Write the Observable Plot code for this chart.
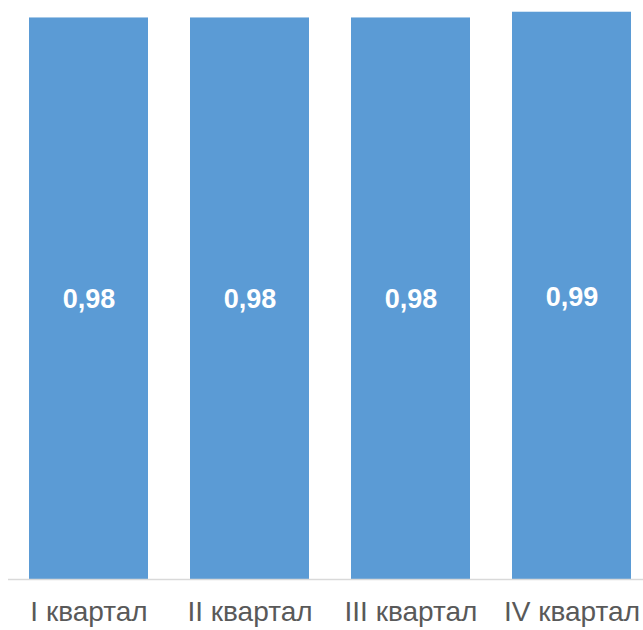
<!DOCTYPE html>
<html>
<head>
<meta charset="utf-8">
<script src="https://cdn.jsdelivr.net/npm/d3@7"></script>
<script src="https://cdn.jsdelivr.net/npm/@observablehq/plot@0.6"></script>
<style>
  html, body { margin: 0; padding: 0; background: #fff; }
  #chart svg { display: block; }
</style>
</head>
<body>
<div id="chart"></div>
<script>
const categories = ["I квартал", "II квартал", "III квартал", "IV квартал"];
const values = [0.98, 0.98, 0.98, 0.99];
const labels = ["0,98", "0,98", "0,98", "0,99"];

const data = categories.map((c, i) => ({ category: c, value: values[i], label: labels[i] }));

const chart = Plot.plot({
  width: 643,
  height: 630,
  marginTop: 6,
  marginBottom: 51,
  marginLeft: 8,
  marginRight: -9,
  style: { fontFamily: "'Liberation Sans', Arial, sans-serif", background: "#fff" },
  x: { domain: categories, paddingInner: 0.261, paddingOuter: 0.1305, label: null },
  y: { domain: [0, 1], axis: null },
  marks: [
    Plot.barY(data, { x: "category", y: "value", fill: "#5B9BD5" }),
    Plot.ruleY([0], { stroke: "#D9D9D9", strokeWidth: 1.5 }),
    Plot.text(data, {
      x: "category",
      y: d => d.value / 2,
      text: "label",
      fill: "#fff",
      fontSize: 27,
      fontWeight: "bold",
      dy: 1
    }),
    Plot.axisX({
      tickSize: 0,
      tickPadding: 0,
      fontSize: 28,
      fill: "#595959",
      dy: 22,
      label: null
    })
  ]
});
document.getElementById("chart").appendChild(chart);
</script>
</body>
</html>
